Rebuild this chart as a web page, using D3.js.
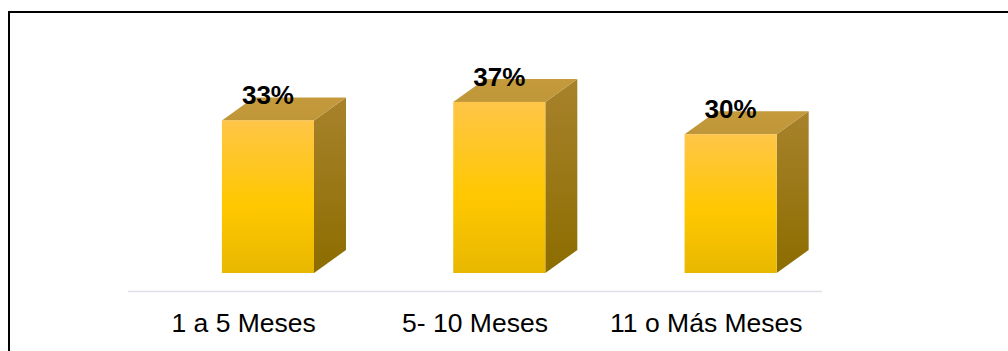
<!DOCTYPE html>
<html>
<head>
<meta charset="utf-8">
<script src="https://cdn.jsdelivr.net/npm/d3@7"></script>
<style>
  html, body { margin: 0; padding: 0; background: #ffffff; }
  svg { display: block; }
  text { font-family: "Liberation Sans", Arial, sans-serif; }
</style>
</head>
<body>
<svg id="chart" width="1008" height="351"></svg>
<script>
// Duration categories and share of respondents
const categories = ["1 a 5 Meses", "5- 10 Meses", "11 o Más Meses"];
const shares = [0.33, 0.37, 0.30];
const shareLabels = ["33%", "37%", "30%"];

const svg = d3.select("#chart");
const W = 1008, H = 351;

// outer frame
svg.append("path")
  .attr("d", `M9,${H + 5} L9,12 L${W + 5},12`)
  .attr("fill", "none")
  .attr("stroke", "#000")
  .attr("stroke-width", 2);

const x = d3.scaleBand().domain(categories).range([128, 822]).padding(0);
const y = d3.scaleLinear().domain([0, 0.4]).range([273, 88]);

const depthX = 32, depthY = 23;
const frontOffset = 0.406, frontWidth = 0.398;

const defs = svg.append("defs");
const gFront = defs.append("linearGradient").attr("id", "front")
  .attr("x1", 0).attr("y1", 0).attr("x2", 0).attr("y2", 1);
gFront.append("stop").attr("offset", "0%").attr("stop-color", "#ffc548");
gFront.append("stop").attr("offset", "55%").attr("stop-color", "#ffc800");
gFront.append("stop").attr("offset", "100%").attr("stop-color", "#e8b700");

const gSide = defs.append("linearGradient").attr("id", "side")
  .attr("x1", 0).attr("y1", 0).attr("x2", 0).attr("y2", 1);
gSide.append("stop").attr("offset", "0%").attr("stop-color", "#a8822c");
gSide.append("stop").attr("offset", "100%").attr("stop-color", "#8c6d00");

const gTop = defs.append("linearGradient").attr("id", "topface")
  .attr("x1", 0).attr("y1", 0).attr("x2", 0).attr("y2", 1);
gTop.append("stop").attr("offset", "0%").attr("stop-color", "#c49a3c");
gTop.append("stop").attr("offset", "100%").attr("stop-color", "#bf9638");

// category axis line
svg.append("line")
  .attr("x1", x.range()[0]).attr("x2", x.range()[1])
  .attr("y1", 291.5).attr("y2", 291.5)
  .attr("stroke", "#dde0e5").attr("stroke-width", 1.5);

const data = categories.map((c, i) => ({ c, v: shares[i], label: shareLabels[i] }));

const bars = svg.append("g").selectAll("g").data(data).join("g");

bars.each(function(d) {
  const g = d3.select(this);
  const x0 = x(d.c) + x.bandwidth() * frontOffset;
  const w = x.bandwidth() * frontWidth;
  const yt = y(d.v), yb = y(0);
  // side face
  g.append("path")
    .attr("d", `M${x0 + w},${yt} L${x0 + w + depthX},${yt - depthY} L${x0 + w + depthX},${yb - depthY} L${x0 + w},${yb} Z`)
    .attr("fill", "url(#side)");
  // top face
  g.append("path")
    .attr("d", `M${x0},${yt} L${x0 + depthX},${yt - depthY} L${x0 + w + depthX},${yt - depthY} L${x0 + w},${yt} Z`)
    .attr("fill", "url(#topface)");
  // front face
  g.append("rect")
    .attr("x", x0).attr("y", yt)
    .attr("width", w).attr("height", yb - yt)
    .attr("fill", "url(#front)");
  // value label
  g.append("text")
    .attr("x", x0 + w / 2)
    .attr("y", yt - 16)
    .attr("text-anchor", "middle")
    .attr("font-size", 26)
    .attr("font-weight", "bold")
    .attr("fill", "#000")
    .text(d.label);
});

// category labels
svg.append("g").selectAll("text").data(categories).join("text")
  .attr("x", d => x(d) + x.bandwidth() / 2)
  .attr("y", 332)
  .attr("text-anchor", "middle")
  .attr("font-size", 26.5)
  .attr("fill", "#000")
  .text(d => d);
</script>
</body>
</html>
